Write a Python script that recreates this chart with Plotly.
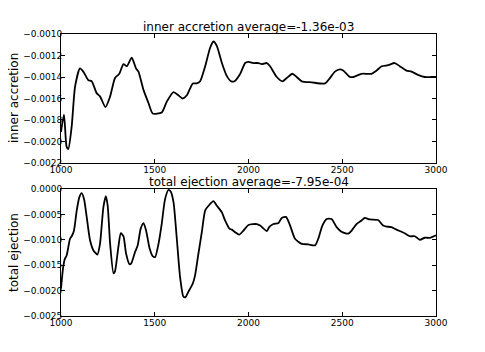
#!/usr/bin/env python
'''Inner accretion and total ejection against time, two stacked panels.'''

import plotly.graph_objs as go
from plotly.subplots import make_subplots

inner_t = [1000, 1016, 1030, 1039, 1057, 1075, 1101, 1119, 1146, 1164,
           1190, 1208, 1237, 1262, 1288, 1311, 1333, 1351, 1377, 1400,
           1413, 1440, 1466, 1489, 1537, 1564, 1600, 1626, 1649, 1671,
           1703, 1724, 1742, 1769, 1795, 1813, 1831, 1858, 1884, 1907,
           1925, 1956, 1982, 2000, 2027, 2053, 2071, 2098, 2115, 2151,
           2181, 2204, 2234, 2257, 2284, 2337, 2408, 2434, 2461, 2488,
           2505, 2541, 2559, 2603, 2656, 2683, 2710, 2745, 2780, 2807,
           2842, 2869, 2904, 2940, 2975, 3000]
inner_acc = [-0.00191, -0.00175, -0.00205, -0.00207, -0.00186, -0.00149,
             -0.00132, -0.00135, -0.00143, -0.00144, -0.00155, -0.00158,
             -0.00168, -0.00158, -0.00141, -0.00137, -0.00128, -0.00130,
             -0.00122, -0.00132, -0.00135, -0.00152, -0.00164, -0.00174,
             -0.00173, -0.00163, -0.00154, -0.00157, -0.00160, -0.00157,
             -0.00146, -0.00146, -0.00144, -0.00130, -0.00113, -0.00107,
             -0.00111, -0.00127, -0.00139, -0.00144, -0.00144, -0.00137,
             -0.00127, -0.00126, -0.00127, -0.00127, -0.00128, -0.00127,
             -0.00130, -0.00140, -0.00144, -0.00141, -0.00137, -0.00140,
             -0.00144, -0.00145, -0.00146, -0.00141, -0.00135, -0.00133,
             -0.00134, -0.00140, -0.00140, -0.00137, -0.00137, -0.00134,
             -0.00130, -0.00129, -0.00127, -0.00130, -0.00134, -0.00135,
             -0.00138, -0.00140, -0.00140, -0.00140]

eject_t = [1000, 1012, 1021, 1030, 1048, 1057, 1069, 1084, 1098, 1110,
           1123, 1137, 1155, 1173, 1194, 1208, 1226, 1239, 1249, 1262,
           1280, 1288, 1306, 1319, 1333, 1347, 1365, 1374, 1395, 1409,
           1425, 1440, 1454, 1472, 1489, 1502, 1520, 1537, 1555, 1573,
           1585, 1600, 1617, 1635, 1653, 1664, 1680, 1703, 1715, 1733,
           1751, 1769, 1787, 1813, 1831, 1858, 1875, 1898, 1911, 1929,
           1950, 1973, 2000, 2044, 2062, 2098, 2110, 2133, 2160, 2177,
           2200, 2222, 2248, 2284, 2319, 2355, 2372, 2394, 2417, 2443,
           2470, 2496, 2532, 2550, 2576, 2603, 2620, 2647, 2691, 2718,
           2736, 2762, 2789, 2833, 2860, 2887, 2914, 2940, 2967, 3000]
total_ej = [-0.00196, -0.00153, -0.00137, -0.00131, -0.00098, -0.00093,
            -0.00082, -0.00042, -0.00016, -0.00008, -0.00020, -0.00055,
            -0.00101, -0.00121, -0.00129, -0.00108, -0.00036, -0.00014,
            -0.00033, -0.00108, -0.00166, -0.00162, -0.00114, -0.00087,
            -0.00093, -0.00127, -0.00148, -0.00147, -0.00124, -0.00111,
            -0.00078, -0.00067, -0.00082, -0.00116, -0.00132, -0.00134,
            -0.00108, -0.00069, -0.00020, -0.00002, -0.00005, -0.00026,
            -0.00095, -0.00173, -0.00212, -0.00213, -0.00202, -0.00186,
            -0.00170, -0.00127, -0.00085, -0.00042, -0.00033, -0.00024,
            -0.00033, -0.00046, -0.00062, -0.00078, -0.00080, -0.00085,
            -0.00090, -0.00082, -0.00071, -0.00069, -0.00072, -0.00083,
            -0.00075, -0.00069, -0.00067, -0.00057, -0.00055, -0.00072,
            -0.00098, -0.00108, -0.00109, -0.00111, -0.00098, -0.00072,
            -0.00059, -0.00059, -0.00075, -0.00084, -0.00088, -0.00082,
            -0.00069, -0.00062, -0.00057, -0.00060, -0.00061, -0.00072,
            -0.00074, -0.00075, -0.00080, -0.00087, -0.00093, -0.00093,
            -0.00100, -0.00096, -0.00096, -0.00091]

inner_title = 'inner accretion average=-1.36e-03'
eject_title = 'total ejection average=-7.95e-04'

font = 'DejaVu Sans'


def axis_style(standoff):
    '''matplotlib-like boxed axis with inward ticks'''
    return dict(showline=True, linecolor='black', linewidth=1,
                mirror='ticks', ticks='inside', ticklen=4,
                tickcolor='black', showgrid=False, zeroline=False,
                automargin=False, ticklabelstandoff=standoff,
                tickfont=dict(family=font, size=9, color='black'))


def main():
    '''The driver.'''
    fig = make_subplots(rows=2, cols=1, vertical_spacing=0.09)
    fig.add_trace(go.Scatter(x=inner_t, y=inner_acc, mode='lines',
                             line=dict(color='black', width=1.8,
                                       shape='spline', smoothing=0.6)),
                  row=1, col=1)
    fig.add_trace(go.Scatter(x=eject_t, y=total_ej, mode='lines',
                             line=dict(color='black', width=1.8,
                                       shape='spline', smoothing=0.6)),
                  row=2, col=1)
    for ax in ('xaxis', 'xaxis2'):
        fig.layout[ax].update(axis_style(-2), range=[1000, 3000],
                              tick0=1000, dtick=500)
    fig.layout.yaxis.update(axis_style(-4), range=[-0.0022, -0.0010],
                            dtick=0.0002, tick0=-0.0022,
                            tickformat='.4f', domain=[0.5426, 1])
    fig.layout.yaxis2.update(axis_style(-4), range=[-0.0025, 0],
                             dtick=0.0005, tick0=-0.0025,
                             tickformat='.4f', domain=[0, 0.4504])
    notes = [
        dict(text=inner_title, xref='x domain', yref='y domain',
             x=0.5, y=1, yanchor='bottom', yshift=-2, showarrow=False,
             font=dict(family=font, size=12, color='black')),
        dict(text=eject_title, xref='x2 domain', yref='y2 domain',
             x=0.5, y=1, yanchor='bottom', yshift=-2, showarrow=False,
             font=dict(family=font, size=12, color='black')),
        dict(text='inner accretion', xref='paper', yref='y domain',
             x=-0.124, y=0.5, xanchor='center', textangle=-90,
             showarrow=False,
             font=dict(family=font, size=12, color='black')),
        dict(text='total ejection', xref='paper', yref='y2 domain',
             x=-0.124, y=0.5, xanchor='center', textangle=-90,
             showarrow=False,
             font=dict(family=font, size=12, color='black')),
    ]
    # page body adds an 8px offset, so the figure is drawn 16px smaller
    fig.update_layout(
        width=469, height=336, showlegend=False,
        margin=dict(l=53, r=41, t=26, b=28),
        paper_bgcolor='white', plot_bgcolor='white',
        annotations=notes,
    )
    fig.write_html('out.html')


if __name__ == '__main__':
    main()
